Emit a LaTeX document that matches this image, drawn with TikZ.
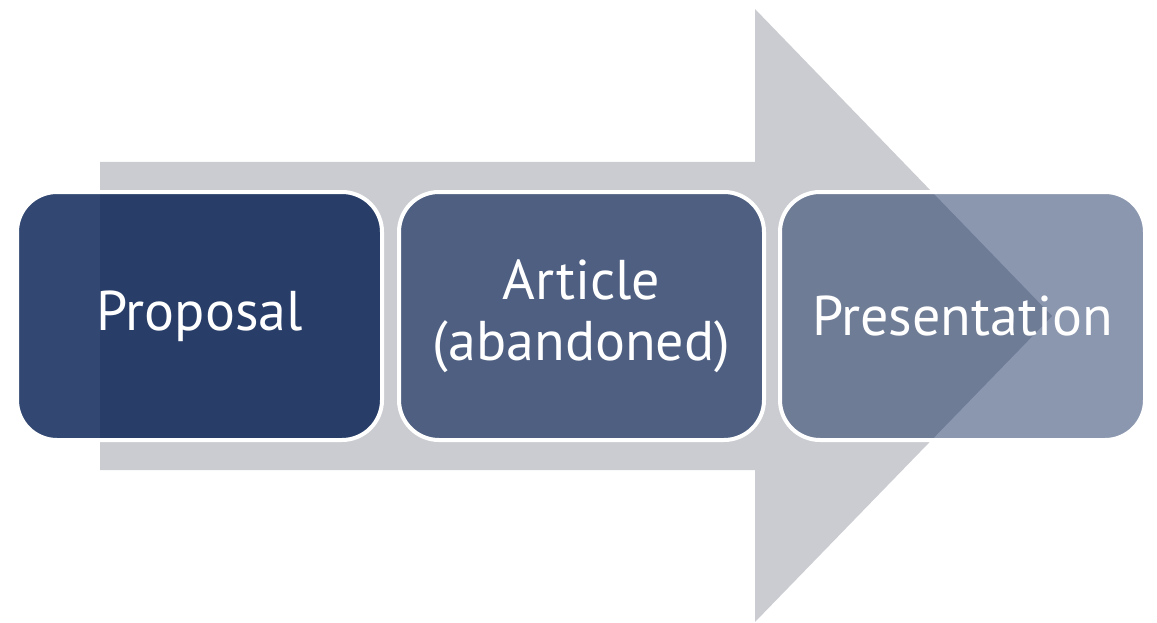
\documentclass[tikz,border=0pt]{standalone}
\usepackage{fontspec}
\setmainfont{PT Sans}
\definecolor{arrowgrey}{RGB}{203,204,209}
\definecolor{stagenavy}{RGB}{8,34,85}
\tikzset{
  stage/.style={draw=white, line width=4pt, rounded corners=40pt,
    fill=stagenavy, text=white, text opacity=1, align=center,
    minimum width=365pt, minimum height=248pt,
    font=\fontsize{56}{61}\selectfont}
}
\begin{document}
\begin{tikzpicture}[x=1pt, y=-1pt]
\useasboundingbox (0,0) rectangle (1157,623);
% big grey arrow behind the stages
\fill [arrowgrey] (100,162) -- (755,162) -- (755,9) -- (1052,316)
  -- (755,622) -- (755,470) -- (100,470) -- cycle;
% the three stages
\node [stage, fill opacity=0.83] (proposal) at (199.5,316) {Proposal};
\node [stage, fill opacity=0.64] (article) at (581.5,316) {Article\\(abandoned)};
\node [stage, fill opacity=0.47] (presentation) at (962.5,316) {Presentation};
\end{tikzpicture}
\end{document}
